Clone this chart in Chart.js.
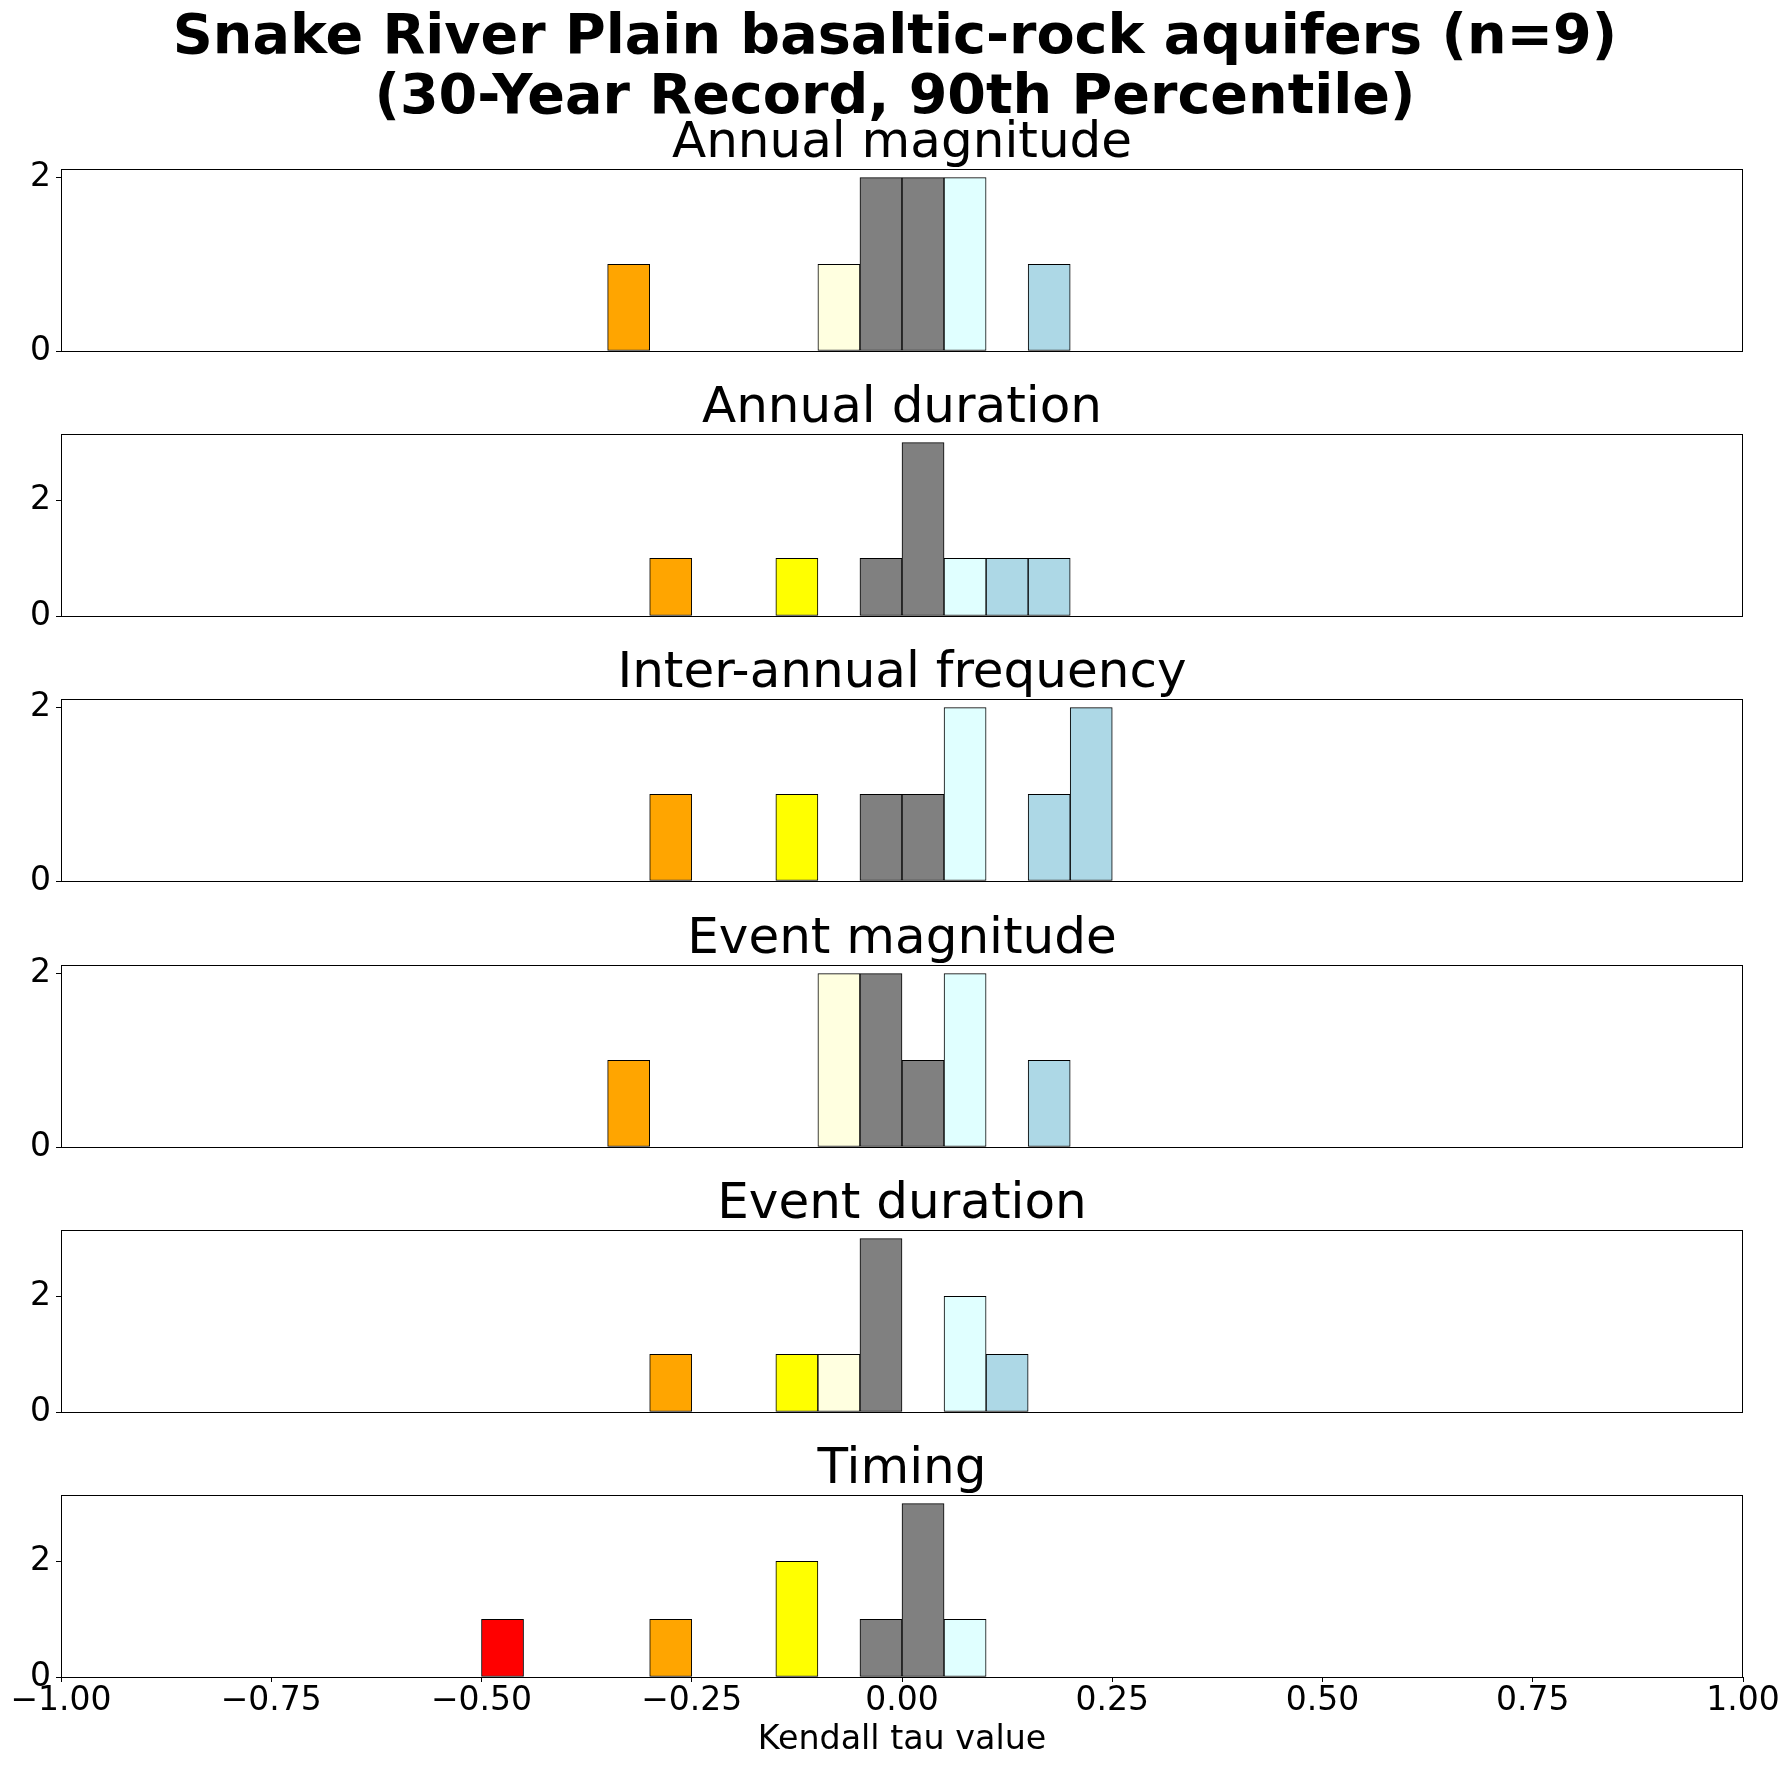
<!DOCTYPE html>
<html>
<head>
<meta charset="utf-8">
<script src="https://cdn.jsdelivr.net/npm/chart.js@4.4.1/dist/chart.umd.min.js"></script>
<style>
  html, body { margin: 0; padding: 0; background: #fff; }
  #page { position: relative; width: 1790px; height: 1769px; overflow: hidden; background: #fff;
          font-family: "DejaVu Sans", sans-serif; color: #000; }
  .suptitle { position: absolute; left: 0; top: 4px; width: 1790px; text-align: center;
              font-weight: bold; font-size: 55.6px; line-height: 60px; white-space: nowrap; }
  .subtitle { position: absolute; left: 61px; width: 1682px; text-align: center;
              font-size: 50px; line-height: 50px; white-space: nowrap; }
  canvas { position: absolute; left: 0; }
</style>
</head>
<body>
<div id="page">
  <div class="suptitle">Snake River Plain basaltic-rock aquifers (n=9)<br>(30-Year Record, 90th Percentile)</div>
</div>
<script>
// histogram bins (left edges), width 0.05
const binStarts = [
  -1.00, -0.95, -0.90, -0.85, -0.80, -0.75, -0.70, -0.65, -0.60, -0.55,
  -0.50, -0.45, -0.40, -0.35, -0.30, -0.25, -0.20, -0.15, -0.10, -0.05,
   0.00,  0.05,  0.10,  0.15,  0.20,  0.25,  0.30,  0.35,  0.40,  0.45,
   0.50,  0.55,  0.60,  0.65,  0.70,  0.75,  0.80,  0.85,  0.90,  0.95
];
const binWidth = 0.05;

const panelTitles = ['Annual magnitude', 'Annual duration', 'Inter-annual frequency',
                     'Event magnitude', 'Event duration', 'Timing'];

// site counts per bin
const annualMagnitude = [
  0,0,0,0,0,0,0,0,0,0,  0,0,0,1,0,0,0,0,1,2,  2,2,0,1,0,0,0,0,0,0,  0,0,0,0,0,0,0,0,0,0
];
const annualDuration = [
  0,0,0,0,0,0,0,0,0,0,  0,0,0,0,1,0,0,1,0,1,  3,1,1,1,0,0,0,0,0,0,  0,0,0,0,0,0,0,0,0,0
];
const interAnnualFrequency = [
  0,0,0,0,0,0,0,0,0,0,  0,0,0,0,1,0,0,1,0,1,  1,2,0,1,2,0,0,0,0,0,  0,0,0,0,0,0,0,0,0,0
];
const eventMagnitude = [
  0,0,0,0,0,0,0,0,0,0,  0,0,0,1,0,0,0,0,2,2,  1,2,0,1,0,0,0,0,0,0,  0,0,0,0,0,0,0,0,0,0
];
const eventDuration = [
  0,0,0,0,0,0,0,0,0,0,  0,0,0,0,1,0,0,1,1,3,  0,2,1,0,0,0,0,0,0,0,  0,0,0,0,0,0,0,0,0,0
];
const timing = [
  0,0,0,0,0,0,0,0,0,0,  1,0,0,0,1,0,0,2,0,1,  3,1,0,0,0,0,0,0,0,0,  0,0,0,0,0,0,0,0,0,0
];
const panelCounts = [annualMagnitude, annualDuration, interAnnualFrequency,
                     eventMagnitude, eventDuration, timing];

const xTicks = [-1, -0.75, -0.5, -0.25, 0, 0.25, 0.5, 0.75, 1];
const yTicks = [0, 2];

// layout (page pixels)
const axesTop = [169, 434, 699, 965, 1230, 1495];
const axesHeight = 182;
const axesLeft = 61;
const axesRight = 1743;
const pageW = 1790, pageH = 1769;
const pad = 25;

function binColor(start) {
  const c = start + binWidth / 2;
  if (c < -0.4) return 'red';
  if (c < -0.2) return 'orange';
  if (c < -0.1) return 'yellow';
  if (c < -0.05) return 'lightyellow';
  if (c < 0.05) return 'gray';
  if (c < 0.1) return 'lightcyan';
  if (c < 0.4) return 'lightblue';
  return 'blue';
}

function fmtTick(v) {
  return (v < 0 ? '\u2212' : '') + Math.abs(v).toFixed(2);
}

const framePlugin = {
  id: 'frame',
  afterDatasetsDraw(chart) {
    const { ctx, chartArea: a } = chart;
    ctx.save();
    ctx.strokeStyle = '#000';
    ctx.lineWidth = 1;
    ctx.strokeRect(a.left + 0.5, a.top + 0.5, a.right - a.left - 1, a.bottom - a.top);
    ctx.restore();
  }
};

Chart.defaults.font.family = '"DejaVu Sans", sans-serif';
Chart.defaults.color = '#000';

const page = document.getElementById('page');

panelCounts.forEach((counts, k) => {
  const isLast = k === panelCounts.length - 1;
  const top = axesTop[k];
  const bottom = top + axesHeight;

  const title = document.createElement('div');
  title.className = 'subtitle';
  title.style.top = (top - 12 - 0.846 * 50) + 'px';
  title.textContent = panelTitles[k];
  page.appendChild(title);

  const canvas = document.createElement('canvas');
  const cTop = top - pad;
  const cH = isLast ? pageH - cTop : axesHeight + 2 * pad;
  canvas.width = pageW;
  canvas.height = cH;
  canvas.style.top = cTop + 'px';
  canvas.style.width = pageW + 'px';
  canvas.style.height = cH + 'px';
  page.appendChild(canvas);

  const maxCount = Math.max(...counts);

  new Chart(canvas, {
    type: 'bar',
    data: {
      datasets: [{
        data: counts.map((n, i) => ({ x: binStarts[i] + binWidth / 2, y: n })),
        backgroundColor: binStarts.map(binColor),
        borderColor: '#000',
        borderWidth: 1,
        borderSkipped: false,
        barPercentage: 1,
        categoryPercentage: 1
      }]
    },
    options: {
      responsive: false,
      animation: false,
      devicePixelRatio: 1,
      layout: { padding: { left: 0, right: pageW - axesRight, top: pad, bottom: isLast ? 0 : pad } },
      plugins: { legend: { display: false }, tooltip: { enabled: false } },
      scales: {
        x: {
          type: 'linear',
          min: -1,
          max: 1,
          offset: false,
          display: isLast,
          grid: { offset: false, drawOnChartArea: false, drawTicks: true, tickLength: 5, color: '#000', lineWidth: 1 },
          border: { display: false },
          ticks: { autoSkip: false, maxRotation: 0, padding: 0, font: { size: 33 }, callback: fmtTick },
          afterBuildTicks: s => { s.ticks = xTicks.map(v => ({ value: v })); },
          afterFit: s => {
            s.height = isLast ? pageH - bottom : 0;
            s.paddingLeft = 0; s.paddingRight = 0;
          },
          title: { display: true, text: 'Kendall tau value', font: { size: 33.3 }, padding: { top: 4, bottom: 9 } }
        },
        y: {
          min: 0,
          max: maxCount * 1.05,
          grid: { drawOnChartArea: false, drawTicks: true, tickLength: 5, color: '#000', lineWidth: 1 },
          border: { display: false },
          ticks: { padding: 5, font: { size: 33 }, callback: v => String(v) },
          afterBuildTicks: s => { s.ticks = yTicks.map(v => ({ value: v })); },
          afterFit: s => { s.width = axesLeft; s.paddingTop = 0; s.paddingBottom = 0; }
        }
      }
    },
    plugins: [framePlugin]
  });
});
</script>
</body>
</html>
